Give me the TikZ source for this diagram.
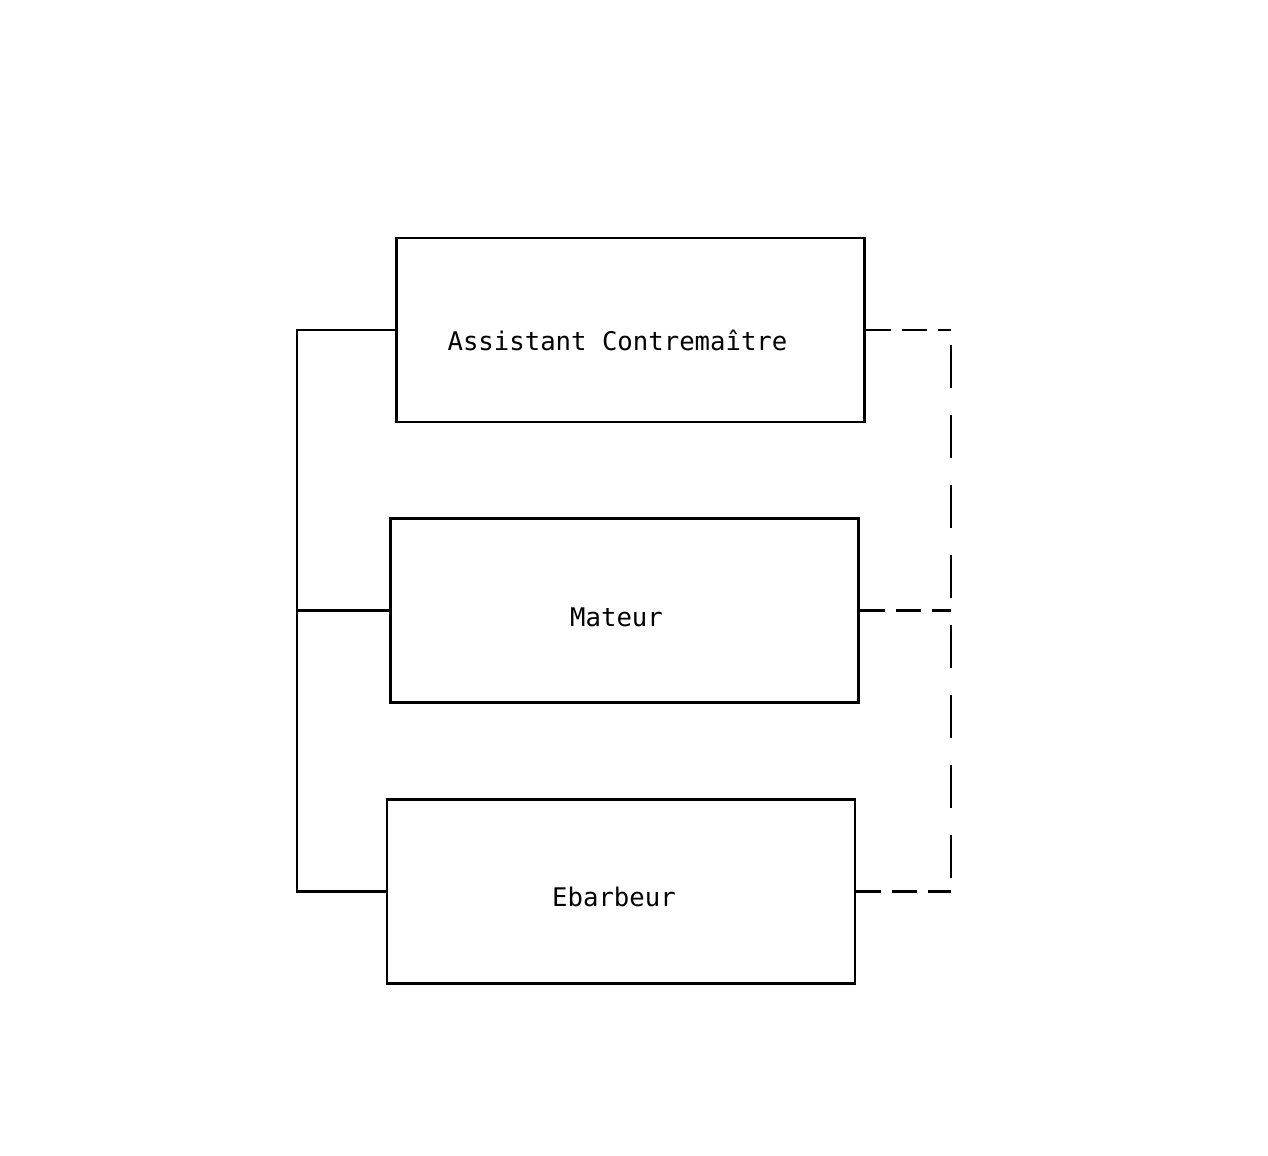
\documentclass[tikz,border=0pt]{standalone}
\usepackage{fontspec}
\setmonofont{DejaVu Sans Mono}
\usepackage{tikz}
\usetikzlibrary{positioning, calc}

\begin{document}
\begin{tikzpicture}[
        poste/.style={rectangle, draw, line width=1.6pt, minimum width=9.36cm, minimum height=3.68cm},
        titre/.style={font=\ttfamily\fontsize{14.6}{17}\selectfont},
        lien/.style={line width=1.5pt},
        lienvert/.style={line width=1.5pt, dash pattern=on 0.85cm off 0.55cm},
        lienhoriz/.style={line width=1.5pt, dash pattern=on 0.5cm off 0.22cm}
    ]
        \useasboundingbox (0,0) rectangle (25.36,-23.12);

        \node[poste] (assist) at (12.61,-6.6) {};
        \node[poste, below=1.88cm of assist, xshift=-0.12cm] (mateur) {};
        \node[poste, below=1.88cm of mateur, xshift=-0.07cm] (ebarb) {};

        % Titles, a bit left and low in their boxes
        \node[titre] (t-assist) at ($(assist)+(-0.26,-0.2)$) {Assistant Contremaître};
        \node[titre] (t-mateur) at ($(mateur)+(-0.16,-0.14)$) {Mateur};
        \node[titre] (t-ebarb) at ($(ebarb)+(-0.14,-0.1)$) {Ebarbeur};

        % Lines at both sides
        \coordinate (gauche) at (5.94,0);
        \coordinate (droite) at (19.02,0);

        % Hierarchy on the left
        \draw[lien] (assist.west) -| (gauche |- ebarb.west) -- (ebarb.west);
        \draw[lien] (mateur.west) -- (mateur.west -| gauche);

        % Dashed links on the right
        \draw[lienhoriz] (assist.east) -- (assist.east -| droite);
        \draw[lienvert] ([yshift=-0.3cm]assist.east -| droite) -- (droite |- ebarb.east);
        \draw[lienhoriz] (mateur.east) -- (mateur.east -| droite);
        \draw[lienhoriz] (ebarb.east) -- (ebarb.east -| droite);

    \end{tikzpicture}
\end{document}
